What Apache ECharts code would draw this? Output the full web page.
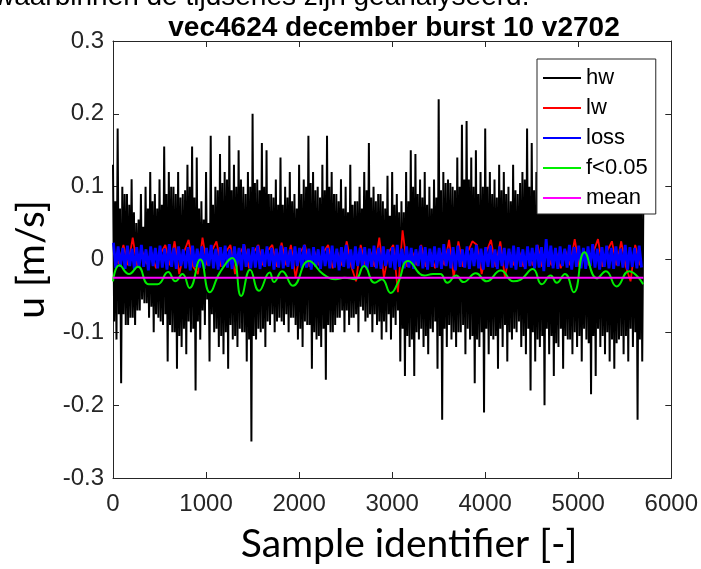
<!DOCTYPE html>
<html><head><meta charset="utf-8">
<script src="https://cdn.jsdelivr.net/npm/echarts@6/dist/echarts.min.js"></script>
<style>html,body{margin:0;padding:0;background:#fff;overflow:hidden}#c{width:701px;height:569px}</style>
</head><body><div id="c"></div>
<script>
// ---- data ----
const titleText = 'vec4624 december burst 10 v2702';
const xTickValues = [0, 1000, 2000, 3000, 4000, 5000, 6000];
const yTickValues = [-0.3, -0.2, -0.1, 0, 0.1, 0.2, 0.3];
const seriesNames = ['hw', 'lw', 'loss', 'f<0.05', 'mean'];
const binSamples = 50; // hw/lw/loss read per 50-sample bin

// hw: spike top and spike bottom per 50-sample bin
const hwMax = [0.13,0.18,0.10,0.09,0.11,0.05,0.09,0.10,0.12,0.09,
0.11,0.155,0.12,0.10,0.12,0.09,0.13,0.155,0.14,0.08,
0.12,0.17,0.10,0.145,0.12,0.17,0.13,0.15,0.10,0.12,
0.20,0.11,0.16,0.15,0.09,0.11,0.14,0.10,0.12,0.09,
0.13,0.11,0.17,0.12,0.10,0.13,0.17,0.12,0.09,0.11,
0.10,0.13,0.08,0.10,0.12,0.16,0.10,0.09,0.08,0.115,
0.12,0.09,0.08,0.12,0.15,0.145,0.11,0.12,0.10,0.11,
0.22,0.12,0.11,0.10,0.14,0.185,0.19,0.14,0.15,0.12,
0.18,0.12,0.11,0.13,0.12,0.10,0.13,0.09,0.12,0.18,
0.16,0.12,0.11,0.13,0.10,0.14,0.165,0.12,0.10,0.15,
0.13,0.11,0.14,0.12,0.16,0.13,0.11,0.14,0.12,0.10,
0.15,0.13,0.11,0.14];
const hwMin = [-0.11,-0.17,-0.09,-0.08,-0.09,-0.07,-0.06,-0.08,-0.10,-0.08,
-0.09,-0.14,-0.10,-0.15,-0.12,-0.13,-0.10,-0.18,-0.11,-0.09,
-0.14,-0.10,-0.12,-0.13,-0.15,-0.11,-0.12,-0.10,-0.14,-0.25,
-0.11,-0.10,-0.12,-0.09,-0.10,-0.08,-0.09,-0.10,-0.08,-0.11,
-0.12,-0.09,-0.15,-0.11,-0.12,-0.165,-0.10,-0.09,-0.08,-0.10,
-0.09,-0.08,-0.10,-0.07,-0.08,-0.10,-0.09,-0.11,-0.10,-0.11,
-0.09,-0.14,-0.16,-0.12,-0.16,-0.11,-0.12,-0.13,-0.10,-0.15,
-0.22,-0.12,-0.11,-0.12,-0.10,-0.13,-0.11,-0.17,-0.12,-0.21,
-0.13,-0.11,-0.15,-0.12,-0.14,-0.11,-0.10,-0.12,-0.13,-0.18,
-0.14,-0.12,-0.20,-0.13,-0.16,-0.12,-0.15,-0.11,-0.13,-0.12,
-0.14,-0.11,-0.185,-0.16,-0.12,-0.13,-0.14,-0.15,-0.11,-0.13,
-0.14,-0.12,-0.22,-0.14];
// hw: edges of the dense black core per 50-sample bin
const hwCoreHi = [0.08,0.07,0.09,0.075,0.065,0.055,0.045,0.07,0.08,0.07,
0.075,0.09,0.10,0.09,0.085,0.095,0.10,0.085,0.07,0.055,
0.05,0.075,0.095,0.105,0.11,0.095,0.10,0.11,0.09,0.10,
0.105,0.095,0.10,0.09,0.085,0.075,0.075,0.085,0.08,0.07,
0.09,0.10,0.105,0.095,0.085,0.095,0.10,0.09,0.08,0.07,
0.065,0.075,0.08,0.07,0.095,0.085,0.08,0.09,0.07,0.06,
0.075,0.065,0.065,0.08,0.10,0.09,0.085,0.075,0.07,0.085,
0.095,0.105,0.105,0.095,0.10,0.11,0.11,0.10,0.09,0.10,
0.10,0.09,0.085,0.095,0.09,0.08,0.095,0.105,0.11,0.10,
0.095,0.105,0.095,0.085,0.09,0.10,0.08,0.09,0.095,0.085,
0.10,0.095,0.085,0.095,0.09,0.08,0.10,0.09,0.085,0.095,
0.095,0.105,0.095,0.085];
const hwCoreLo = [-0.085,-0.075,-0.075,-0.09,-0.08,-0.07,-0.055,-0.06,-0.065,-0.075,
-0.085,-0.075,-0.09,-0.10,-0.105,-0.095,-0.085,-0.095,-0.085,-0.07,
-0.055,-0.075,-0.095,-0.105,-0.10,-0.09,-0.105,-0.095,-0.10,-0.11,
-0.105,-0.095,-0.095,-0.085,-0.075,-0.085,-0.085,-0.075,-0.08,-0.09,
-0.095,-0.085,-0.09,-0.10,-0.105,-0.095,-0.09,-0.10,-0.08,-0.07,
-0.07,-0.08,-0.075,-0.065,-0.085,-0.075,-0.075,-0.085,-0.085,-0.075,
-0.08,-0.07,-0.095,-0.105,-0.11,-0.10,-0.095,-0.105,-0.095,-0.085,
-0.105,-0.095,-0.09,-0.10,-0.10,-0.09,-0.095,-0.105,-0.11,-0.10,
-0.095,-0.105,-0.105,-0.095,-0.09,-0.10,-0.095,-0.085,-0.105,-0.095,
-0.10,-0.11,-0.105,-0.095,-0.105,-0.115,-0.095,-0.105,-0.11,-0.10,
-0.105,-0.095,-0.115,-0.105,-0.095,-0.105,-0.10,-0.11,-0.115,-0.105,
-0.105,-0.095,-0.10,-0.11];

const lwValues = [0.008,-0.006,0.020,-0.008,0.030,-0.010,0.012,-0.006,0.010,-0.012,
0.008,0.020,-0.008,0.025,-0.020,0.010,0.027,-0.010,-0.020,0.030,
-0.008,0.012,0.025,-0.010,0.010,0.020,-0.020,0.008,0.020,-0.012,
0.010,0.020,-0.008,0.012,0.020,-0.010,0.023,-0.008,0.020,-0.025,
0.010,0.020,-0.010,0.012,-0.008,0.010,0.020,-0.012,0.010,-0.008,
0.025,-0.010,-0.030,0.020,-0.008,0.012,-0.010,0.030,-0.025,0.010,
0.020,-0.045,0.040,-0.010,0.012,-0.008,0.020,-0.010,0.010,-0.012,
0.012,-0.008,0.027,-0.025,0.025,-0.010,0.010,0.025,0.020,-0.020,
0.010,0.027,-0.010,0.025,-0.025,0.010,-0.008,0.012,-0.010,0.010,
-0.008,0.020,-0.010,0.012,-0.008,0.010,-0.012,0.012,-0.008,0.028,
-0.010,0.012,-0.008,0.010,0.028,-0.010,0.012,0.025,-0.008,0.025,
-0.010,-0.030,0.020,-0.008];

const lossHi = [0.023,0.018,0.016,0.019,0.015,0.017,0.020,0.014,0.018,0.016,
0.019,0.015,0.021,0.016,0.018,0.014,0.017,0.019,0.015,0.018,
0.016,0.020,0.015,0.017,0.019,0.014,0.018,0.016,0.021,0.015,
0.017,0.019,0.014,0.018,0.016,0.015,0.019,0.017,0.014,0.018,
0.016,0.020,0.015,0.017,0.014,0.018,0.016,0.019,0.015,0.017,
0.020,0.014,0.018,0.016,0.017,0.015,0.019,0.016,0.018,0.014,
0.017,0.020,0.015,0.018,0.016,0.014,0.019,0.017,0.015,0.018,
0.016,0.021,0.015,0.017,0.019,0.014,0.018,0.016,0.020,0.015,
0.017,0.019,0.014,0.018,0.016,0.015,0.019,0.017,0.014,0.018,
0.016,0.020,0.017,0.028,0.019,0.016,0.018,0.015,0.020,0.017,
0.019,0.016,0.018,0.021,0.015,0.017,0.019,0.016,0.018,0.015,
0.020,0.017,0.016,0.019];
const lossLo = [-0.012,-0.010,-0.013,-0.009,-0.014,-0.011,-0.010,-0.015,-0.009,-0.012,
-0.011,-0.014,-0.010,-0.013,-0.009,-0.012,-0.015,-0.010,-0.011,-0.013,
-0.009,-0.012,-0.014,-0.010,-0.011,-0.013,-0.009,-0.015,-0.010,-0.012,
-0.011,-0.013,-0.010,-0.009,-0.014,-0.011,-0.012,-0.010,-0.013,-0.009,
-0.012,-0.011,-0.014,-0.010,-0.013,-0.009,-0.012,-0.011,-0.015,-0.010,
-0.012,-0.013,-0.009,-0.011,-0.014,-0.010,-0.012,-0.013,-0.009,-0.011,
-0.014,-0.010,-0.012,-0.011,-0.013,-0.009,-0.012,-0.014,-0.010,-0.011,
-0.013,-0.009,-0.012,-0.015,-0.010,-0.011,-0.013,-0.009,-0.012,-0.014,
-0.010,-0.011,-0.013,-0.009,-0.012,-0.011,-0.014,-0.010,-0.013,-0.009,
-0.012,-0.011,-0.016,-0.010,-0.012,-0.013,-0.009,-0.011,-0.014,-0.010,
-0.012,-0.013,-0.009,-0.011,-0.014,-0.010,-0.012,-0.013,-0.009,-0.011,
-0.014,-0.010,-0.012,-0.011];

const lowSamples = [0,69,172,268,383,478,593,670,746,823,938,1041,1148,1282,1378,1473,1569,1684,1730,1818,1933,
2105,2258,2392,2488,2602,2698,2813,2889,2985,3062,3173,3345,3440,3517,3594,3689,3766,3900,4014,
4168,4302,4378,4512,4608,4704,4768,4857,4952,5067,5201,5297,5412,5546,5698];
const lowValues = [-0.030,-0.008,-0.020,-0.010,-0.034,-0.034,-0.017,-0.030,-0.020,-0.039,0.000,-0.045,-0.018,0.002,-0.050,-0.014,-0.043,-0.018,-0.031,-0.016,-0.036,
-0.002,-0.020,-0.027,-0.025,-0.027,-0.009,-0.032,-0.027,-0.046,-0.032,-0.002,-0.022,-0.020,-0.020,-0.032,-0.022,-0.031,-0.019,-0.030,
-0.015,-0.030,-0.028,-0.013,-0.034,-0.022,-0.032,-0.020,-0.045,0.010,-0.026,-0.016,-0.037,-0.016,-0.034];

const meanValue = -0.025;
const sampleRange = [0, 5700];

// ---- build series data ----
const hwData = [];
hwMax.forEach((v, i) => {
  hwData.push([i * binSamples, v]);
  hwData.push([i * binSamples + 12.5, hwCoreLo[i]]);
  hwData.push([i * binSamples + 25, hwCoreHi[i]]);
  hwData.push([i * binSamples + 37.5, hwMin[i]]);
});
hwData.push([sampleRange[1], hwCoreHi[hwCoreHi.length - 1]]);
const lwData = lwValues.map((v, i) => [i * binSamples + 12, v]);
const lossData = [];
lossHi.forEach((v, i) => { lossData.push([i * binSamples + 5, v]); lossData.push([i * binSamples + 30, lossLo[i]]); });
const lowData = lowSamples.map((s, i) => [s, lowValues[i]]);
const meanData = sampleRange.map(s => [s, meanValue]);

const axisColor = '#262626';
const chart = echarts.init(document.getElementById('c'), null, {renderer: 'canvas'});
const base = {type: 'line', showSymbol: false, symbol: 'none', animation: false, sampling: null};
const tickFont = {fontFamily: "'Liberation Sans', Arial, sans-serif", fontSize: 24, color: axisColor};
chart.setOption({
  animation: false,
  backgroundColor: '#fff',
  title: {
    text: titleText, left: 389, top: 9, textAlign: 'center',
    textStyle: {fontFamily: "'Liberation Sans', Arial, sans-serif", fontWeight: 'bold', fontSize: 28, color: '#000'}
  },
  graphic: [{
    type: 'text', left: -6, top: -17,
    style: {text: 'waarbinnen de tijdseries zijn geanalyseerd.', fontFamily: "'Liberation Sans', Arial, sans-serif", fontSize: 28, fill: '#000'}
  }],
  legend: {
    orient: 'vertical', left: 537, top: 59,
    padding: [8, 8, 5, 6], itemGap: 8, itemWidth: 38, itemHeight: 2,
    backgroundColor: '#fff', borderColor: axisColor, borderWidth: 1, borderRadius: 0,
    icon: 'rect',
    data: seriesNames,
    textStyle: {fontFamily: "'Liberation Sans', Arial, sans-serif", fontSize: 22, color: '#000', lineHeight: 22}
  },
  grid: {left: 113, top: 41, width: 560, height: 440, containLabel: false},
  xAxis: [{
    type: 'value', min: xTickValues[0], max: xTickValues[xTickValues.length - 1], interval: 1000,
    name: 'Sample identifier [-]', nameLocation: 'middle', nameGap: 47,
    nameTextStyle: {fontFamily: 'Lato, sans-serif', fontSize: 39, color: '#000', padding: [0, 0, 0, 34]},
    axisLine: {show: true, onZero: false, lineStyle: {color: axisColor, width: 1}},
    axisTick: {show: true, inside: true, length: 6, lineStyle: {color: axisColor}},
    axisLabel: Object.assign({margin: 14, formatter: v => String(v)}, tickFont),
    splitLine: {show: false}
  }, {
    type: 'value', position: 'top', min: xTickValues[0], max: xTickValues[xTickValues.length - 1], interval: 1000,
    axisLine: {show: true, onZero: false, lineStyle: {color: axisColor, width: 1}},
    axisTick: {show: true, inside: true, length: 6, lineStyle: {color: axisColor}},
    axisLabel: {show: false}, splitLine: {show: false}
  }],
  yAxis: [{
    type: 'value', min: yTickValues[0], max: yTickValues[yTickValues.length - 1], interval: 0.1,
    name: 'u [m/s]', nameLocation: 'middle', nameGap: 62, nameRotate: 90,
    nameTextStyle: {fontFamily: 'Lato, sans-serif', fontSize: 39, color: '#000'},
    axisLine: {show: true, onZero: false, lineStyle: {color: axisColor, width: 1}},
    axisTick: {show: true, inside: true, length: 6, lineStyle: {color: axisColor}},
    axisLabel: Object.assign({margin: 9,
      formatter: v => { const r = Math.round(v * 10) / 10; return r === 0 ? '0' : String(r); }}, tickFont),
    splitLine: {show: false}
  }, {
    type: 'value', position: 'right', min: yTickValues[0], max: yTickValues[yTickValues.length - 1], interval: 0.1,
    axisLine: {show: true, onZero: false, lineStyle: {color: axisColor, width: 1}},
    axisTick: {show: true, inside: true, length: 6, lineStyle: {color: axisColor}},
    axisLabel: {show: false}, splitLine: {show: false}
  }],
  series: [
    Object.assign({}, base, {name: 'hw', data: hwData, color: '#000', lineStyle: {color: '#000', width: 2, join: 'miter', miterLimit: 2}}),
    Object.assign({}, base, {name: 'lw', data: lwData, color: '#ff0000', lineStyle: {color: '#ff0000', width: 1.8}}),
    Object.assign({}, base, {name: 'loss', data: lossData, color: '#0000ff', lineStyle: {color: '#0000ff', width: 2.8}}),
    Object.assign({}, base, {name: 'f<0.05', data: lowData, smooth: 0.5, color: '#00ee00', lineStyle: {color: '#00ee00', width: 2}}),
    Object.assign({}, base, {name: 'mean', data: meanData, color: '#ff00ff', lineStyle: {color: '#ff00ff', width: 2}})
  ]
});
</script>
</body></html>
